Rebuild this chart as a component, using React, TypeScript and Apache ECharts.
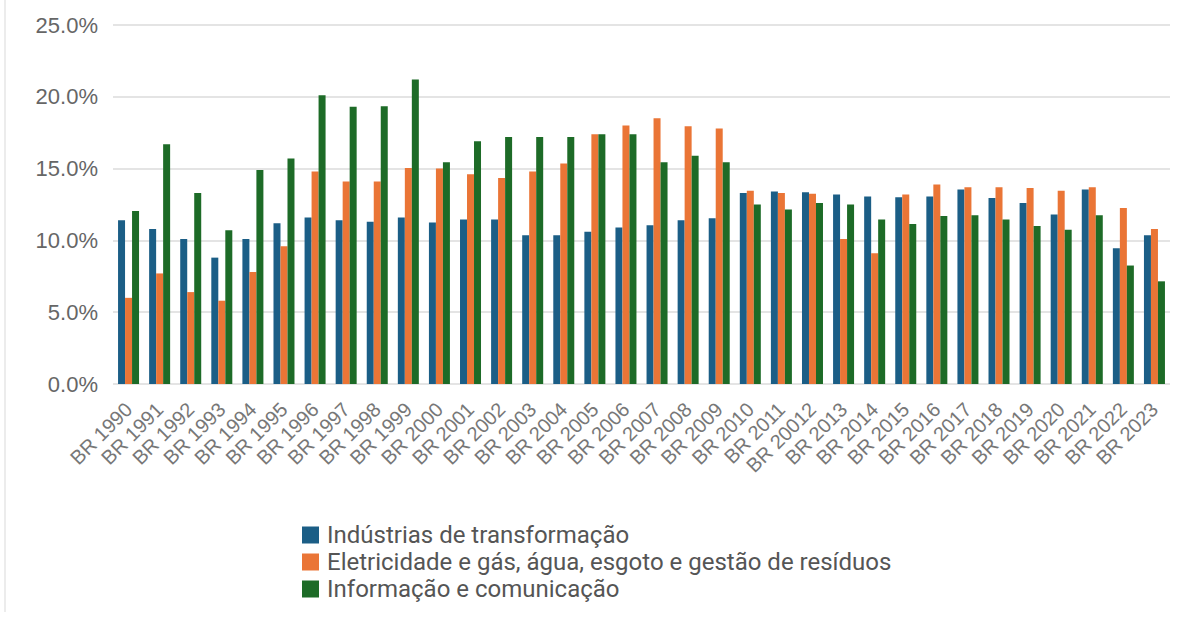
import React, { useEffect, useRef } from "react";
import * as echarts from "echarts";

const categories = [
  "BR 1990", "BR 1991", "BR 1992", "BR 1993", "BR 1994", "BR 1995", "BR 1996", "BR 1997", "BR 1998", "BR 1999",
  "BR 2000", "BR 2001", "BR 2002", "BR 2003", "BR 2004", "BR 2005", "BR 2006", "BR 2007", "BR 2008", "BR 2009",
  "BR 2010", "BR 2011", "BR 20012", "BR 2013", "BR 2014", "BR 2015", "BR 2016", "BR 2017", "BR 2018", "BR 2019",
  "BR 2020", "BR 2021", "BR 2022", "BR 2023",
];

const industrias = [
  11.4, 10.8, 10.1, 8.8, 10.1, 11.2, 11.6, 11.4, 11.3, 11.6,
  11.25, 11.45, 11.45, 10.35, 10.35, 10.6, 10.9, 11.05, 11.4, 11.55,
  13.3, 13.4, 13.35, 13.2, 13.05, 13.0, 13.05, 13.55, 12.95, 12.6,
  11.8, 13.55, 9.45, 10.35,
];

const eletricidade = [
  6.0, 7.7, 6.4, 5.8, 7.8, 9.6, 14.8, 14.1, 14.1, 15.05,
  15.0, 14.6, 14.35, 14.8, 15.35, 17.4, 18.0, 18.5, 17.95, 17.8,
  13.45, 13.3, 13.25, 10.1, 9.1, 13.2, 13.9, 13.7, 13.7, 13.65,
  13.45, 13.7, 12.25, 10.8,
];

const informacao = [
  12.05, 16.7, 13.3, 10.7, 14.9, 15.7, 20.1, 19.3, 19.35, 21.2,
  15.45, 16.9, 17.2, 17.2, 17.2, 17.4, 17.4, 15.45, 15.9, 15.45,
  12.5, 12.15, 12.6, 12.5, 11.45, 11.15, 11.7, 11.75, 11.45, 11.0,
  10.75, 11.75, 8.25, 7.15,
];

const seriesNames = [
  "Indústrias de transformação",
  "Eletricidade e gás, água, esgoto e gestão de resíduos",
  "Informação e comunicação",
];

const colors = ["#1b5e86", "#ea7536", "#1d6b27"];

export default function App() {
  const ref = useRef<HTMLDivElement>(null);
  useEffect(() => {
    document.body.style.margin = "0";
    if (!ref.current) return;
    const chart = echarts.init(ref.current, undefined, { renderer: "svg" });
    const datasets = [industrias, eletricidade, informacao];
    chart.setOption({
      animation: false,
      backgroundColor: "#ffffff",
      color: colors,
      textStyle: { fontFamily: "Liberation Sans, Arial, sans-serif" },
      grid: { left: 113, right: 11, top: 25, bottom: 234, containLabel: false },
      legend: {
        orient: "vertical",
        left: 302,
        top: 523,
        height: 100,
        padding: 0,
        itemWidth: 17,
        itemHeight: 17,
        itemGap: 3,
        icon: "rect",
        data: seriesNames,
        textStyle: {
          fontSize: 24,
          lineHeight: 20,
          color: "#555",
          padding: [0, 0, 0, 3],
          fontFamily: "Roboto, Liberation Sans, sans-serif",
        },
      },
      xAxis: {
        type: "category",
        data: categories,
        axisLine: { show: false },
        axisTick: { show: false },
        axisLabel: {
          rotate: 45,
          interval: 0,
          fontSize: 20,
          color: "#777",
          margin: 22,
        },
      },
      yAxis: {
        type: "value",
        min: 0,
        max: 25,
        interval: 5,
        axisLine: { show: false },
        axisTick: { show: false },
        axisLabel: {
          formatter: (v: number) => v.toFixed(1) + "%",
          fontSize: 22,
          color: "#666",
          margin: 15,
        },
        splitLine: { lineStyle: { color: "#e4e4e4", width: 2 } },
      },
      graphic: [
        {
          type: "line",
          shape: { x1: 5, y1: 0, x2: 5, y2: 612 },
          style: { stroke: "#e6e6e6", lineWidth: 1.5 },
        },
      ],
      series: datasets.map((d, i) => ({
        name: seriesNames[i],
        type: "bar",
        data: d,
        barWidth: 7,
        barGap: "0%",
      })),
    });
    return () => chart.dispose();
  }, []);
  return <div ref={ref} style={{ width: 1181, height: 618 }} />;
}
